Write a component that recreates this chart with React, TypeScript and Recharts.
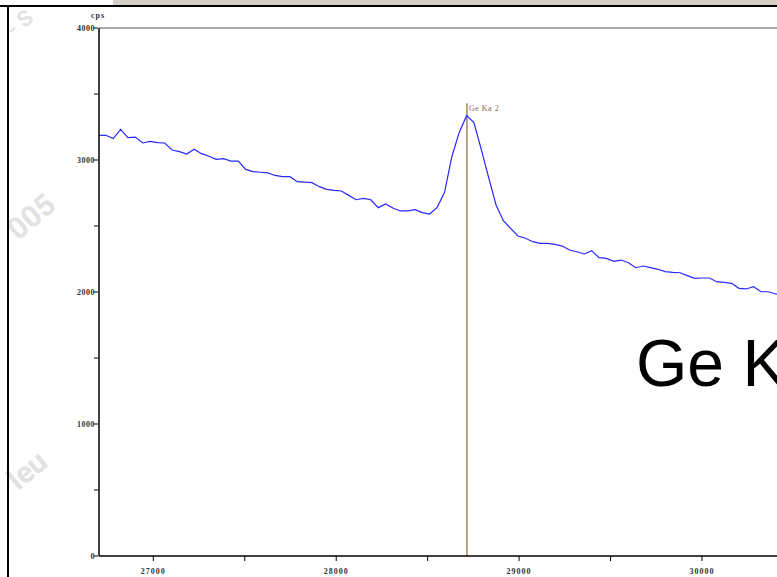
import React from 'react'
import { LineChart, Line, XAxis, YAxis, ReferenceLine } from 'recharts'

// spectrometer position (x) and count rate (cps)
const positions = [
  26700, 26740, 26781, 26821, 26861, 26901, 26942, 26982, 27022, 27062,
  27103, 27143, 27183, 27223, 27264, 27304, 27344, 27384, 27425, 27465,
  27505, 27545, 27586, 27626, 27666, 27706, 27747, 27787, 27827, 27867,
  27908, 27948, 27988, 28028, 28069, 28109, 28149, 28189, 28230, 28270,
  28310, 28350, 28391, 28431, 28471, 28511, 28552, 28592, 28632, 28672,
  28713, 28753, 28793, 28833, 28874, 28914, 28954, 28994, 29035, 29075,
  29115, 29155, 29196, 29236, 29276, 29316, 29357, 29397, 29437, 29477,
  29518, 29558, 29598, 29638, 29679, 29719, 29759, 29799, 29840, 29880,
  29920, 29960, 30001, 30041, 30081, 30121, 30162, 30202, 30242, 30282,
  30323, 30363, 30403, 30443,
]

const counts = [
  3187, 3187, 3162, 3232, 3169, 3174, 3129, 3141, 3131, 3129,
  3076, 3063, 3045, 3081, 3048, 3028, 3005, 3010, 2992, 2992,
  2929, 2912, 2907, 2902, 2883, 2874, 2874, 2836, 2833, 2828,
  2798, 2778, 2770, 2765, 2732, 2699, 2709, 2699, 2639, 2667,
  2636, 2614, 2614, 2624, 2601, 2591, 2641, 2753, 3023, 3207,
  3336, 3283, 3080, 2870, 2659, 2540, 2482, 2424, 2407, 2381,
  2369, 2369, 2361, 2348, 2318, 2305, 2288, 2313, 2260, 2255,
  2232, 2242, 2222, 2184, 2197, 2185, 2172, 2154, 2149, 2146,
  2124, 2104, 2106, 2106, 2078, 2073, 2066, 2028, 2023, 2040,
  2002, 2002, 1985, 1975,
]

const xTicks = [27000, 27500, 28000, 28500, 29000, 29500, 30000, 30500]
const yTicks = [0, 500, 1000, 1500, 2000, 2500, 3000, 3500, 4000]

const peakPosition = 28715
const peakTop = 3430
const peakName = 'Ge Ka 2'
const bigTitle = 'Ge K'

const labelFont = '"Liberation Serif", "DejaVu Serif", serif'

const XTick = ({ x, y, payload }: any) => (
  <g>
    <line x1={x} x2={x} y1={y - 2} y2={y + 3} stroke="#000" strokeWidth={1} />
    {payload.value % 1000 === 0 && (
      <text
        x={x}
        y={y + 16}
        textAnchor="middle"
        fontFamily={labelFont}
        fontWeight="bold"
        fontSize={8}
        letterSpacing={1}
        fill="#333"
      >
        {payload.value}
      </text>
    )}
  </g>
)

const YTick = ({ x, y, payload }: any) => (
  <g>
    <line x1={x - 3} x2={x + 1} y1={y} y2={y} stroke="#000" strokeWidth={1} />
    {payload.value % 1000 === 0 && (
      <text
        x={x - 2}
        y={y + 3}
        textAnchor="end"
        fontFamily={labelFont}
        fontWeight="bold"
        fontSize={8}
        letterSpacing={0.5}
        fill="#333"
      >
        {payload.value}
      </text>
    )}
  </g>
)

const PeakLabel = ({ viewBox }: any) => {
  if (!viewBox) return null
  return (
    <text
      x={viewBox.x + 2}
      y={viewBox.y + 8}
      fontFamily={labelFont}
      fontSize={8}
      letterSpacing={0.5}
      fill="#8a6a48"
    >
      {peakName}
    </text>
  )
}

const watermarkStyle: React.CSSProperties = {
  position: 'absolute',
  color: '#e2e2e2',
  fontFamily: 'Roboto, "Liberation Sans", sans-serif',
  fontWeight: 'bold',
  lineHeight: 1,
  transform: 'rotate(-40deg)',
  transformOrigin: 'left top',
  whiteSpace: 'nowrap',
}

export default function App() {
  const data = positions.map((x, i) => ({ x, cps: counts[i] }))

  return (
    <div
      style={{
        position: 'fixed',
        left: 0,
        top: 0,
        width: 777,
        height: 577,
        overflow: 'hidden',
        background: '#fff',
      }}
    >
      {/* watermark fragments */}
      <div style={{ ...watermarkStyle, left: 2, top: 24, fontSize: 22 }}>- S</div>
      <div style={{ ...watermarkStyle, left: 2, top: 222, fontSize: 30 }}>005</div>
      <div style={{ ...watermarkStyle, left: 2, top: 472, fontSize: 30 }}>leu</div>

      {/* window frame */}
      <div style={{ position: 'absolute', left: 113, top: 0, width: 700, height: 5, background: '#d4d0c8' }} />
      <div style={{ position: 'absolute', left: 0, top: 5, width: 777, height: 2, background: '#000' }} />
      <div style={{ position: 'absolute', left: 7, top: 5, width: 2, height: 572, background: '#000' }} />

      <div
        style={{
          position: 'absolute',
          left: 91,
          top: 11,
          fontFamily: labelFont,
          fontWeight: 'bold',
          fontSize: 8,
          letterSpacing: 1,
          color: '#333',
        }}
      >
        cps
      </div>

      <div style={{ position: 'absolute', left: 0, top: 0 }}>
        <LineChart
          width={840}
          height={577}
          data={data}
          margin={{ top: 28, right: 10, bottom: 0, left: 0 }}
        >
          <XAxis
            dataKey="x"
            type="number"
            domain={[26703, 30700]}
            allowDataOverflow
            ticks={xTicks}
            interval={0}
            tick={<XTick />}
            tickLine={false}
            tickSize={0}
            axisLine={{ stroke: '#000', strokeWidth: 1.5 }}
            height={21}
          />
          <YAxis
            type="number"
            domain={[0, 4000]}
            ticks={yTicks}
            interval={0}
            tick={<YTick />}
            tickLine={false}
            tickSize={0}
            axisLine={{ stroke: '#000', strokeWidth: 1.5 }}
            width={99}
          />
          <ReferenceLine y={4000} stroke="#555" strokeWidth={1} />
          <ReferenceLine
            segment={[
              { x: peakPosition, y: 0 },
              { x: peakPosition, y: peakTop },
            ]}
            stroke="#a5835e"
            strokeWidth={1.5}
            label={<PeakLabel />}
          />
          <Line
            type="linear"
            dataKey="cps"
            stroke="#2828ff"
            strokeWidth={1.2}
            dot={false}
            isAnimationActive={false}
          />
        </LineChart>
      </div>

      <div
        style={{
          position: 'absolute',
          left: 636,
          top: 330,
          fontFamily: '"Liberation Sans", Arial, sans-serif',
          fontSize: 66,
          color: '#000',
          whiteSpace: 'nowrap',
          lineHeight: 1,
        }}
      >
        {bigTitle}
      </div>
    </div>
  )
}
